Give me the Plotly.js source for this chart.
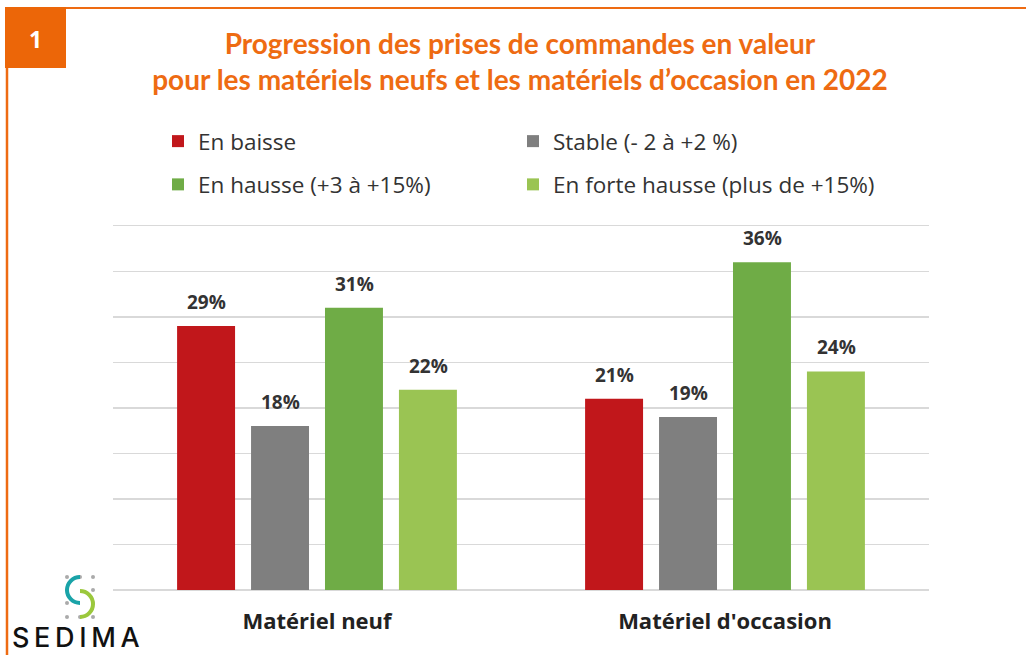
<!DOCTYPE html>
<html>
<head>
<meta charset="utf-8">
<script src="https://cdn.plot.ly/plotly-3.0.1.min.js"></script>
<style>html,body{margin:0;padding:0;background:#fff;}#chart{width:1026px;height:655px;}</style>
</head>
<body>
<div id="chart"></div>
<script>
const categories = ["Matériel neuf", "Matériel d'occasion"];
const seriesNames = ["En baisse", "Stable (- 2 à +2 %)", "En hausse (+3 à +15%)", "En forte hausse (plus de +15%)"];
const enBaisse = [29, 21];
const stable = [18, 19];
const enHausse = [31, 36];
const enForteHausse = [22, 24];
const seriesColors = ["#C1171B", "#7F7F7F", "#6FAC46", "#9AC453"];
const legendIds = ["legend", "legend2", "legend", "legend2"];
const allValues = [enBaisse, stable, enHausse, enForteHausse];

const W = 1026, H = 655;
const L = 113, R = 97, T = 223, B = 65;
const pw = W - L - R, ph = H - T - B;
const px = v => (v - L) / pw;
const py = v => (H - B - v) / ph;

const traces = allValues.map((vals, i) => ({
  type: 'bar',
  name: seriesNames[i],
  x: categories,
  y: vals,
  marker: {color: seriesColors[i], line: {width: 0}},
  legend: legendIds[i],
  legendgroup: 'g' + i,
  hoverinfo: 'skip'
}));

const annotations = [];
allValues.forEach((vals, i) => {
  vals.forEach((v, j) => {
    annotations.push({
      x: j, y: v, xref: 'x', yref: 'y',
      text: v + '%', showarrow: false,
      xshift: (i - 1.5) * 74, yshift: 9, xanchor: 'center', yanchor: 'bottom',
      font: {family: 'Open Sans, sans-serif', size: 19, color: '#333333', weight: 700}
    });
  });
});
// "1" badge
annotations.push({xref: 'paper', yref: 'paper', x: px(35), y: py(39), xanchor: 'center', yanchor: 'middle',
  text: '1', showarrow: false,
  font: {family: 'Open Sans, sans-serif', size: 23, color: '#ffffff', weight: 700}});
// SEDIMA logo text
annotations.push({xref: 'paper', yref: 'paper', x: px(76), y: py(637), xanchor: 'center', yanchor: 'middle',
  text: 'S\u2009E\u2009D\u2009I\u2009M\u2009A', showarrow: false,
  font: {family: 'Inter, sans-serif', size: 27, color: '#111111', weight: 500}});

const shapes = [
  {type: 'line', xref: 'paper', yref: 'paper', x0: px(66), x1: px(1026), y0: py(8), y1: py(8), line: {color: '#EE6B12', width: 2}},
  {type: 'line', xref: 'paper', yref: 'paper', x0: px(7), x1: px(7), y0: py(67), y1: py(655), line: {color: '#EE6B12', width: 2.5}},
  {type: 'rect', xref: 'paper', yref: 'paper', x0: px(5), x1: px(66), y0: py(7), y1: py(68), fillcolor: '#EC6608', line: {width: 0}}
];
// logo dots
[67, 80, 93].forEach(dx => {
  [577, 590, 603, 617].forEach(dy => {
    if (dx === 80 && (dy === 590 || dy === 603)) return;
    shapes.push({type: 'circle', xref: 'paper', yref: 'paper', x0: px(dx - 2), x1: px(dx + 2), y0: py(dy - 2), y1: py(dy + 2), fillcolor: '#AAAAAA', line: {width: 0}});
  });
});
// logo arcs (bezier approximations of half circles)
const k = 0.5523 * 13;
function arcPath(cx, cy, r, side) {
  const s = side;
  const p = (x, y) => px(x) + ',' + py(y);
  return 'M' + p(cx, cy - r) +
    ' C' + p(cx + s * k, cy - r) + ' ' + p(cx + s * r, cy - k) + ' ' + p(cx + s * r, cy) +
    ' C' + p(cx + s * r, cy + k) + ' ' + p(cx + s * k, cy + r) + ' ' + p(cx, cy + r);
}
shapes.push({type: 'path', xref: 'paper', yref: 'paper', path: arcPath(80, 590, 13, -1), line: {color: '#1AA3A8', width: 4}});
shapes.push({type: 'path', xref: 'paper', yref: 'paper', path: arcPath(80, 604, 13, 1), line: {color: '#9BC83C', width: 4}});

const legendCommon = {
  orientation: 'v', bgcolor: 'rgba(0,0,0,0)', borderwidth: 0,
  font: {family: 'Open Sans, sans-serif', size: 22.5, color: '#333333'},
  tracegroupgap: 11, xanchor: 'left', yanchor: 'top', yref: 'container', xref: 'container'
};

const layout = {
  width: W, height: H,
  margin: {l: L, r: R, t: T, b: B, autoexpand: false},
  paper_bgcolor: '#ffffff', plot_bgcolor: '#ffffff',
  barmode: 'group', bargap: 0.275, bargroupgap: 0.216,
  title: {
    text: 'Progression des prises de commandes en valeur<br>pour les matériels neufs et les matériels d’occasion en 2022',
    x: 520 / W, xanchor: 'center', xref: 'container',
    y: 1 - 54 / H, yanchor: 'top', yref: 'container',
    font: {family: 'Lato, sans-serif', size: 28, color: '#EE6B12', weight: 700}
  },
  xaxis: {
    type: 'category', showgrid: false, zeroline: false, showline: false, ticks: '',
    ticklabelstandoff: 16,
    tickfont: {family: 'Open Sans, sans-serif', size: 22, color: '#222222', weight: 700}
  },
  yaxis: {
    range: [0, 40.3], tick0: 0, dtick: 5, showticklabels: false, ticks: '',
    showgrid: true, gridcolor: '#D9D9D9', gridwidth: 1.5,
    zeroline: true, zerolinecolor: '#D9D9D9', zerolinewidth: 1.5, showline: false
  },
  legend: Object.assign({}, legendCommon, {x: 158 / W, y: 1 - 120 / H}),
  legend2: Object.assign({}, legendCommon, {x: 513 / W, y: 1 - 120 / H}),
  annotations: annotations,
  shapes: shapes,
  showlegend: true
};

Plotly.newPlot('chart', traces, layout, {displayModeBar: false, staticPlot: true});
</script>
</body>
</html>
